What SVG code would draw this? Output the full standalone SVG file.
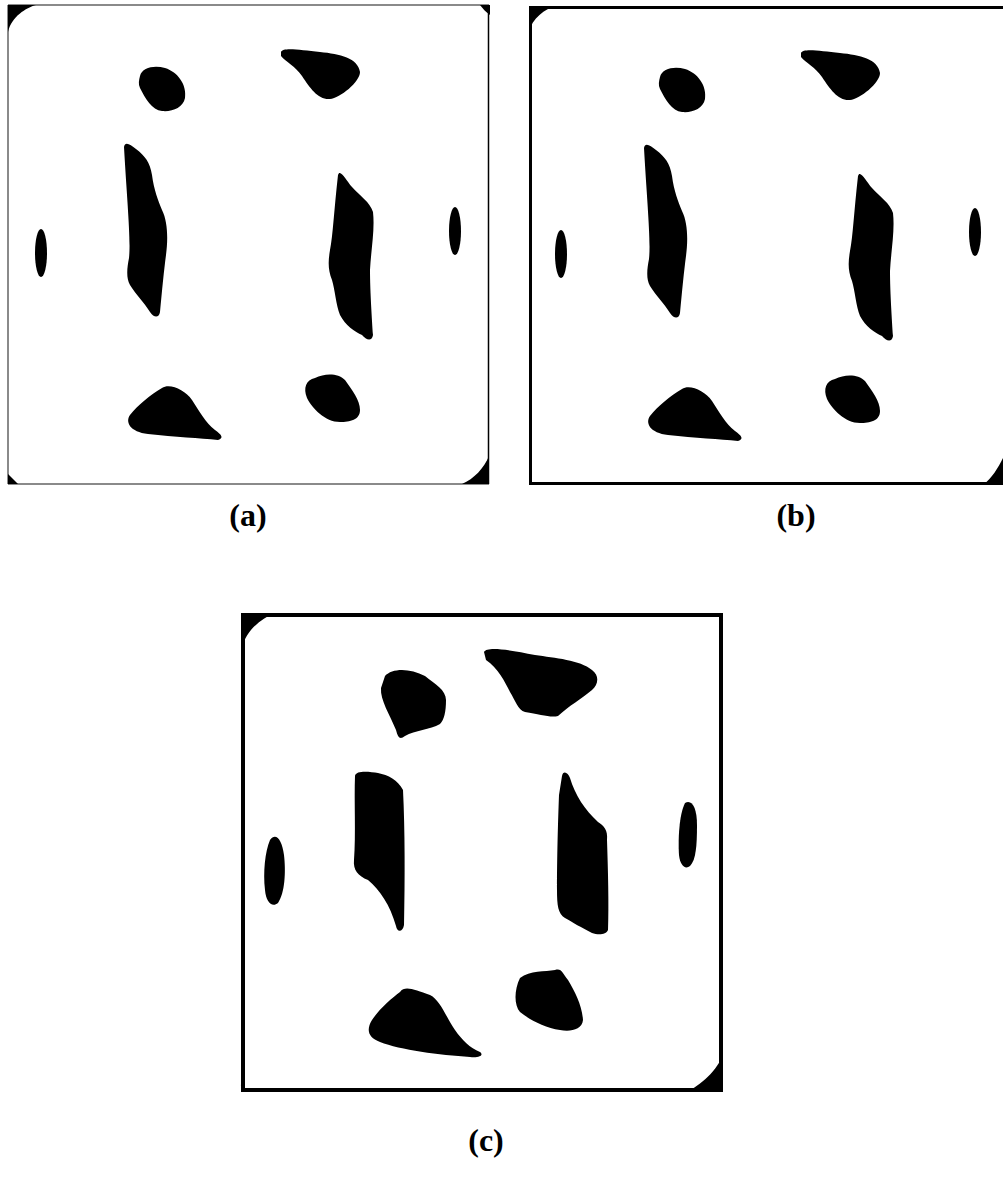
<svg xmlns="http://www.w3.org/2000/svg" width="1003" height="1184" viewBox="0 0 1003 1184">
<style>
.blob{fill:#000}
.lbl{font-family:"Liberation Serif","Times New Roman",serif;font-weight:bold;font-size:32px;fill:#000;text-anchor:middle}
.gray{stroke:#8a8a8a;stroke-width:2;fill:none}
.blk{stroke:#000;fill:none}
</style>
<defs>
<g id="blobsAB">
<path class="blob" d="M140,76 C142,67 155,65 165,68 C178,72 187,85 185,98 C183,108 172,112 162,111 C152,110 145,98 140,88 C138,84 139,80 140,76 Z"/>
<path class="blob" d="M281,52 C283,47 300,50 320,52 C340,54 358,58 360,72 C360,82 340,98 330,99 C318,100 310,88 302,76 C295,66 286,62 281,56 Z"/>
<path class="blob" d="M124,147 C125,141 130,144 136,149 C145,156 150,162 152,175 C154,190 158,200 162,210 C168,222 168,240 166,255 C164,270 162,290 160,312 C159,318 154,318 150,312 C144,302 136,295 130,285 C126,278 127,268 129,258 C131,240 127,200 124,147 Z"/>
<path class="blob" d="M338,175 C340,168 346,180 352,187 C360,196 370,202 373,212 C375,230 371,250 370,270 C370,290 372,320 373,335 C372,342 366,340 362,335 C355,332 345,325 340,315 C336,305 335,290 332,280 C328,270 328,262 330,250 C333,235 334,210 338,175 Z"/>
<ellipse class="blob" cx="41" cy="253" rx="6" ry="24"/>
<ellipse class="blob" cx="455" cy="231" rx="6" ry="24"/>
<path class="blob" d="M162,388 C170,383 185,390 192,400 C200,412 205,422 215,430 C222,435 224,438 218,440 C200,438 175,437 148,434 C130,432 125,422 130,415 C138,405 150,395 162,388 Z"/>
<path class="blob" d="M315,378 C325,373 338,373 345,380 C352,390 360,400 360,410 C360,420 350,422 340,422 C325,422 312,408 307,398 C303,388 306,380 315,378 Z"/>
</g>
</defs>
<rect width="1003" height="1184" fill="#fff"/>

<g id="panel-a">
<line class="gray" x1="8" y1="5" x2="8" y2="484"/>
<line class="gray" x1="8" y1="5" x2="489" y2="5"/>
<line class="gray" x1="8" y1="484" x2="489" y2="484"/>
<line class="blk" stroke-width="1.5" x1="488.5" y1="5" x2="488.5" y2="484"/>
<path class="blob" d="M8,5 L36,5 C26,8 12,16 8,32 Z"/>
<path class="blob" d="M489,456 L489,484 L462,484 C474,479 484,468 489,456 Z"/>
<path class="blob" d="M480,5 L490,5 L490,15 C486,12 483,9 480,5 Z"/>
<path class="blob" d="M8,474 L8,484 L18,484 Z"/>
<use href="#blobsAB"/>
<text class="lbl" x="248" y="526">(a)</text>
</g>

<g id="panel-b">
<line class="blk" stroke-width="3" x1="530.5" y1="6" x2="530.5" y2="485"/>
<line class="blk" stroke-width="3" x1="529" y1="7.5" x2="1003" y2="7.5"/>
<line class="blk" stroke-width="3" x1="529" y1="483.5" x2="1003" y2="483.5"/>
<path class="blob" d="M529,6 L556,6 C545,9 532,18 529,32 Z"/>
<path class="blob" d="M1003,458 L1003,485 L983,485 C992,478 998,468 1003,458 Z"/>
<use href="#blobsAB" transform="translate(520,1)"/>
<text class="lbl" x="796" y="526">(b)</text>
</g>

<g id="panel-c">
<rect class="blk" stroke-width="4" x="243" y="615" width="478" height="475"/>
<path class="blob" d="M241,613 L275,613 C262,618 246,630 242,648 L241,648 Z"/>
<path class="blob" d="M714,613 L723,613 L723,622 A8,8 0 0 0 714,613 Z"/>
<path class="blob" d="M723,1054 L723,1092 L686,1092 C700,1086 718,1070 723,1054 Z"/>
<path class="blob" d="M241,1084 L241,1092 L249,1092 A7,7 0 0 1 241,1084 Z"/>
<path class="blob" d="M385,676 C392,668 410,668 425,676 C435,684 446,690 446,700 C446,712 444,720 440,724 C430,730 415,730 405,736 C400,740 398,738 396,730 C390,715 380,700 381,688 Z"/>
<path class="blob" d="M484,652 C487,646 510,650 535,655 C555,658 580,660 592,670 C600,676 598,685 592,690 C580,700 570,705 558,716 C550,718 540,714 525,712 C518,710 515,700 510,692 C505,682 498,668 486,660 Z"/>
<path class="blob" d="M355,776 C356,770 370,772 378,773 C388,775 398,780 403,790 C405,830 405,880 404,925 C403,932 397,933 396,926 C390,905 380,890 368,880 C358,876 353,870 354,860 C356,835 354,800 355,776 Z"/>
<path class="blob" d="M562,776 C563,770 568,772 570,778 C575,795 585,810 598,822 C604,826 608,830 607,840 C608,870 609,905 608,930 C606,935 598,935 592,933 C582,928 572,922 565,918 C558,914 557,905 557,890 C557,860 558,820 559,795 Z"/>
<path class="blob" d="M270,840 C276,832 282,840 284,855 C286,872 285,893 278,903 C272,908 266,902 265,890 C263,872 265,852 270,840 Z"/>
<path class="blob" d="M685,803 C692,799 697,808 697,825 C697,845 696,860 690,866 C685,870 680,865 679,855 C678,840 679,815 685,803 Z"/>
<path class="blob" d="M400,992 C405,985 415,990 430,995 C440,1000 445,1015 455,1030 C462,1040 470,1048 480,1052 C484,1055 480,1058 470,1057 C440,1055 400,1050 380,1042 C368,1037 366,1030 372,1020 C380,1008 392,998 400,992 Z"/>
<path class="blob" d="M520,978 C530,970 545,972 555,970 C562,968 562,973 568,980 C575,992 582,1005 583,1020 C582,1030 570,1032 560,1030 C545,1028 530,1020 520,1012 C514,1005 514,990 520,978 Z"/>
<text class="lbl" x="486" y="1151">(c)</text>
</g>
</svg>
